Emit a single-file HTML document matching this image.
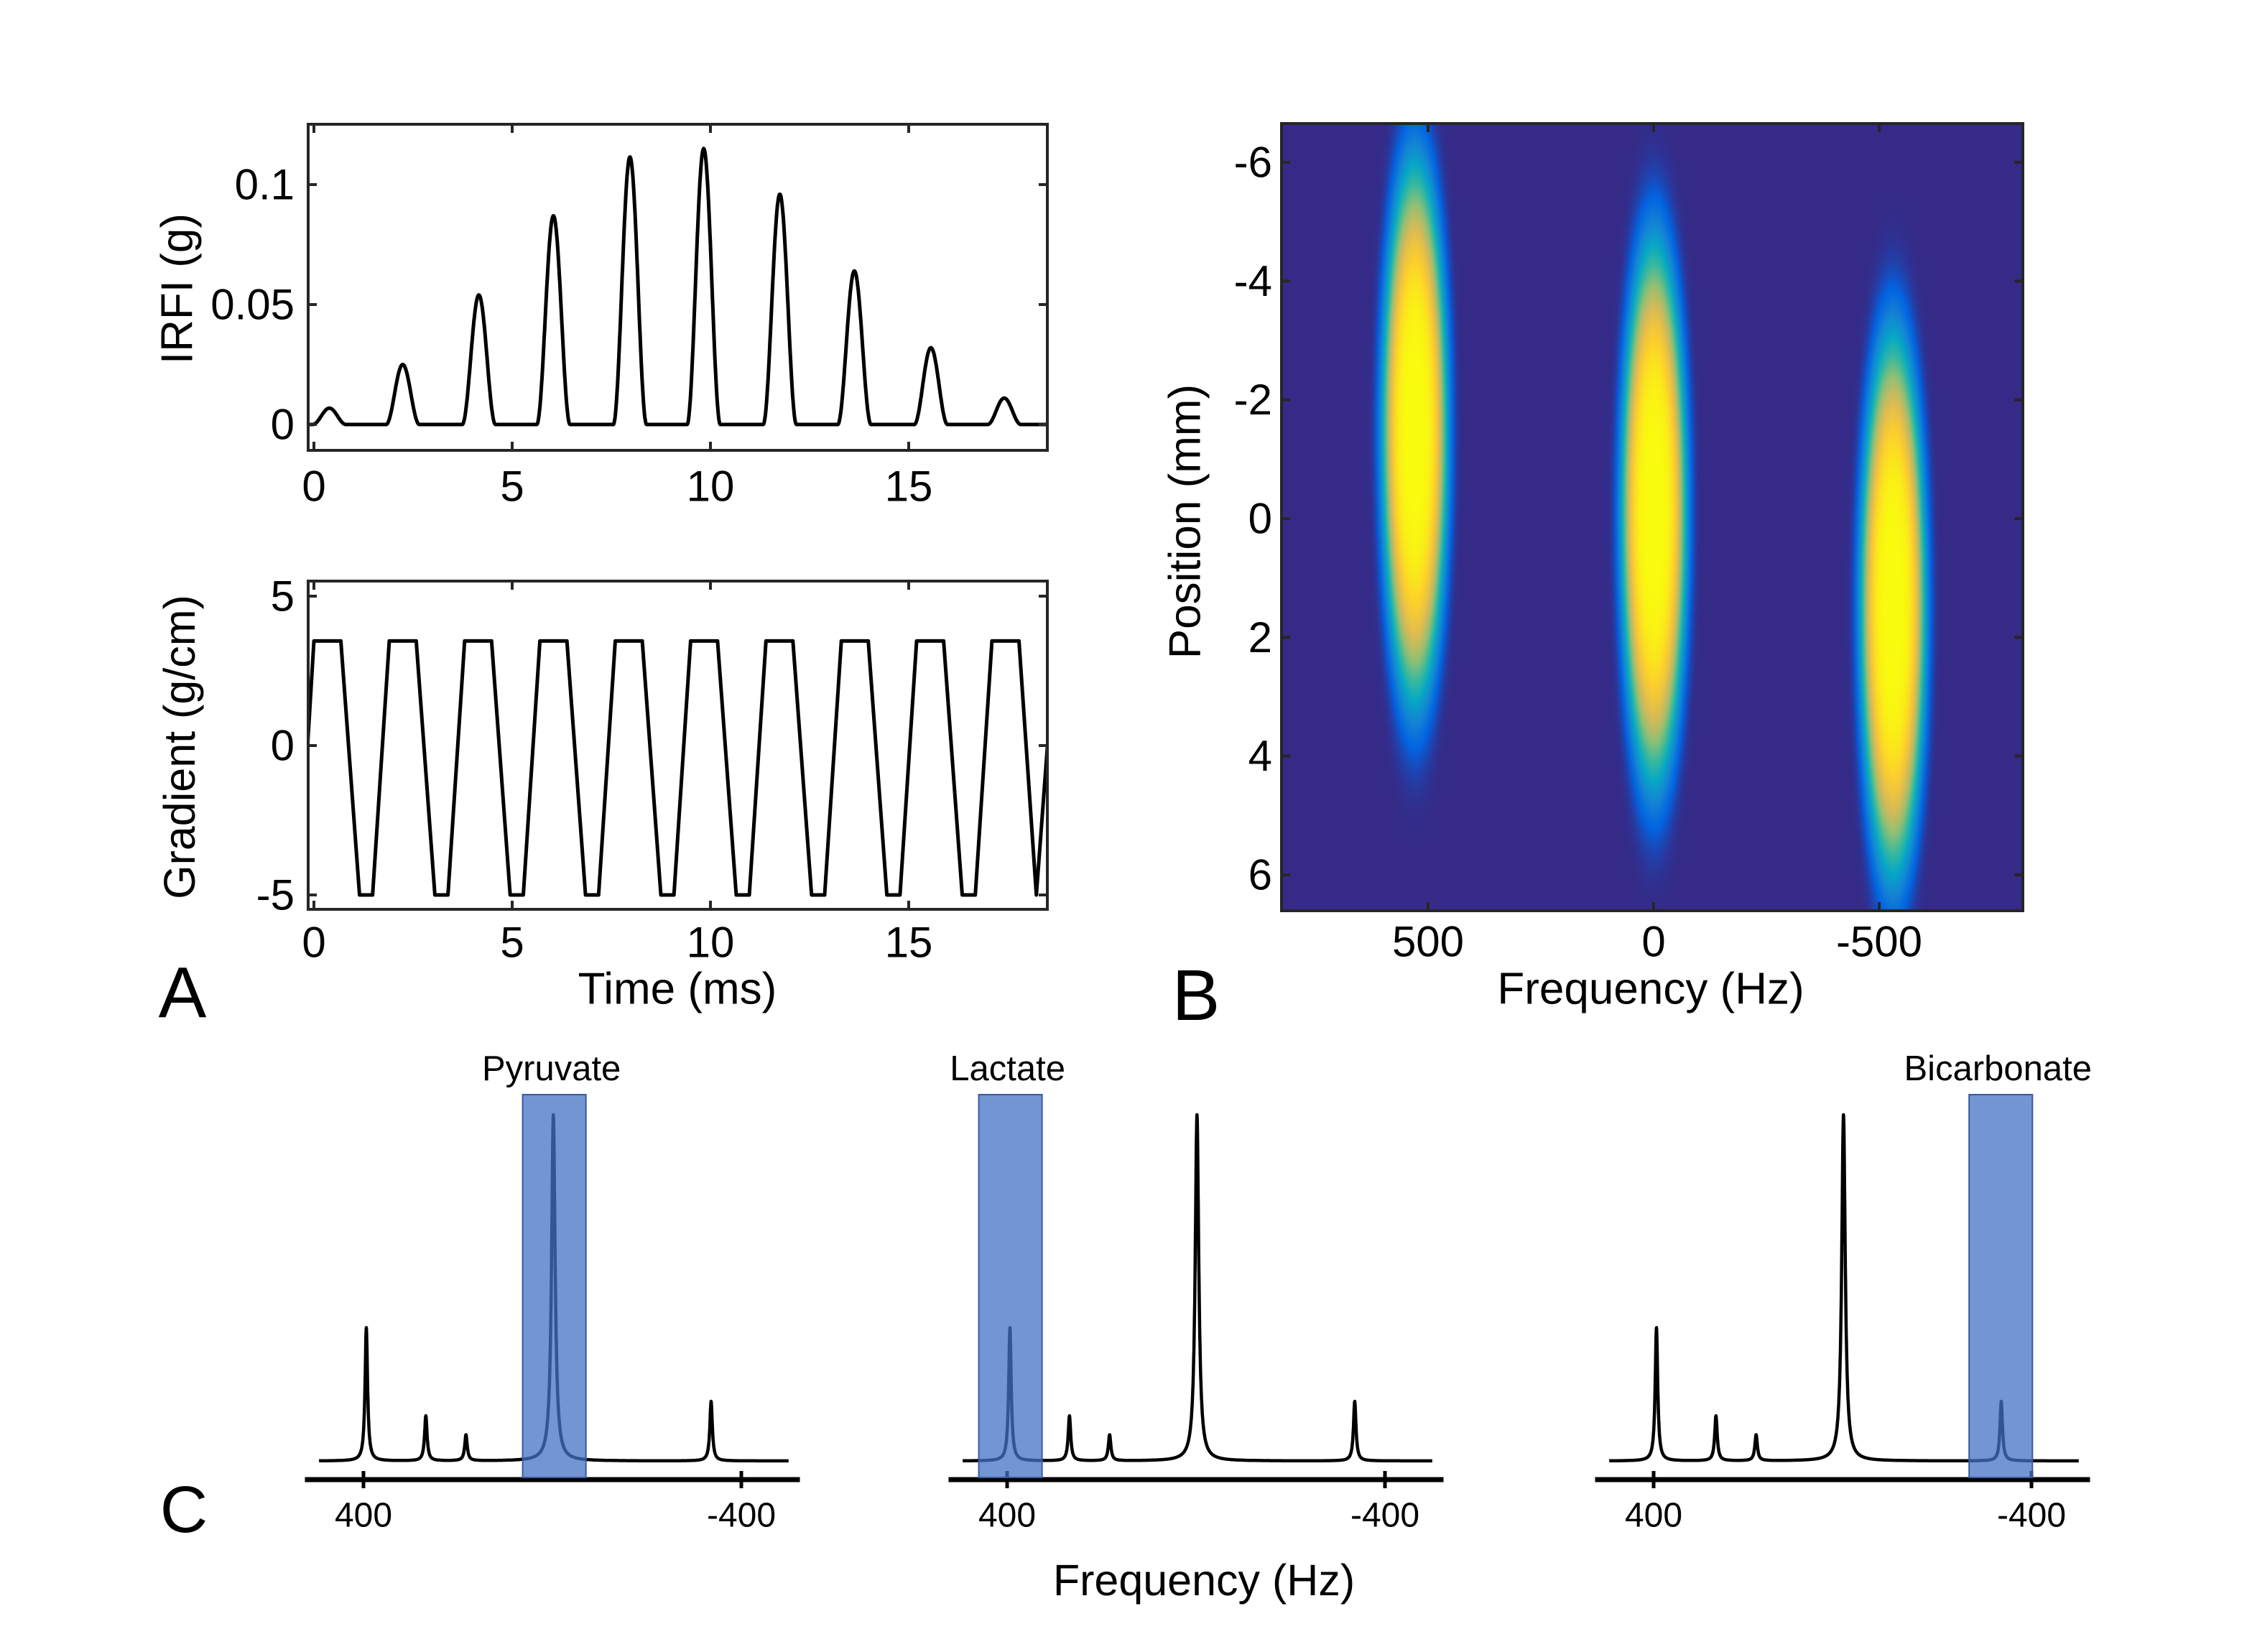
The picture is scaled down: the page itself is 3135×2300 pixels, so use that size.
<!DOCTYPE html>
<html><head><meta charset="utf-8"><style>
html,body{margin:0;padding:0;background:#fff;}
#wrap{position:relative;width:3135px;height:2300px;overflow:hidden;}
svg{position:absolute;left:0;top:0;}
text{font-family:"Liberation Sans",Arial,sans-serif;fill:#000;}
canvas{position:absolute;}
</style></head><body>
<div id="wrap">
<canvas id="heat" style="left:1784px;top:172px;width:1032px;height:1096px" width="1032" height="1096"></canvas>
<svg id="svg" width="3135" height="2300" viewBox="0 0 3135 2300"></svg>
</div>
<script>
// ---------- Panel A1 data: IRFI peaks ----------
const irfiCenters = [0.39, 2.24, 4.16, 6.04, 7.97, 9.83, 11.75, 13.63, 15.56, 17.41];
const irfiHeights = [0.0068, 0.025, 0.054, 0.087, 0.1115, 0.115, 0.096, 0.064, 0.032, 0.011];
const irfiWidth = 0.84;
const irfiYTicks = [0, 0.05, 0.1];
const irfiYTickLabels = ["0", "0.05", "0.1"];
const timeTicks = [0, 5, 10, 15];
const timeTickLabels = ["0", "5", "10", "15"];
// ---------- Panel A2 data: gradient waveform breakpoints ----------
const gradTimes = [-0.16, 0, 0.68, 1.15, 1.48, 1.9, 2.58, 3.05, 3.38, 3.8, 4.48, 4.95, 5.28, 5.7, 6.38, 6.85, 7.18, 7.6, 8.28, 8.75, 9.08, 9.5, 10.18, 10.65, 10.98, 11.4, 12.08, 12.55, 12.88, 13.3, 13.98, 14.45, 14.78, 15.2, 15.88, 16.35, 16.68, 17.1, 17.78, 18.22, 18.5];
const gradValues = [0, 3.5, 3.5, -5, -5, 3.5, 3.5, -5, -5, 3.5, 3.5, -5, -5, 3.5, 3.5, -5, -5, 3.5, 3.5, -5, -5, 3.5, 3.5, -5, -5, 3.5, 3.5, -5, -5, 3.5, 3.5, -5, -5, 3.5, 3.5, -5, -5, 3.5, 3.5, -5, 0];
const gradYTicks = [-5, 0, 5];
const gradYTickLabels = ["-5", "0", "5"];
// ---------- Panel B data ----------
const blobFreqs = [530, 0, -530];
const blobPositions = [-1.45, -0.1, 1.45];
const blobFreqHalfWidth = 95;
const blobPosHalfHeight = 6.0;
const bFreqTicks = [500, 0, -500];
const bFreqTickLabels = ["500", "0", "-500"];
const bPosTicks = [-6, -4, -2, 0, 2, 4, 6];
const bPosTickLabels = ["-6", "-4", "-2", "0", "2", "4", "6"];
// ---------- Panel C data ----------
const specFreqs = [394, 268, 183, -2, -336];
const specHeights = [0.385, 0.13, 0.075, 1.0, 0.172];
const bandCenters = [-4, 393, -335];
const bandLabels = ["Pyruvate", "Lactate", "Bicarbonate"];
const bandWidth = 134;
const cTicks = [400, -400];
const cTickLabels = ["400", "-400"];

const NS = "http://www.w3.org/2000/svg";
const svg = document.getElementById('svg');
function mk(tag, attrs, parent) {
  const e = document.createElementNS(NS, tag);
  for (const k in attrs) e.setAttribute(k, attrs[k]);
  (parent || svg).appendChild(e);
  return e;
}
function txt(str, x, y, size, anchor, parent, rot) {
  const t = mk('text', {x: x, y: y, 'font-size': size, 'text-anchor': anchor || 'middle', 'dominant-baseline': 'central'}, parent);
  if (rot) t.setAttribute('transform', 'rotate(' + rot + ' ' + x + ' ' + y + ')');
  t.textContent = str;
  return t;
}
function lin(d0, d1, r0, r1) { return v => r0 + (v - d0) / (d1 - d0) * (r1 - r0); }

// ===== Panel A1 =====
const a1 = {l: 429, r: 1458, t: 173, b: 627};
const a1x = lin(0, 15, 437, 1265);
const a1y = lin(0, 0.1, 591, 257);
const gA1 = mk('g', {});


(function () {
  let d = '';
  const t0 = -0.15, t1 = 18.5;
  for (let i = 0; i <= 2000; i++) {
    const t = t0 + (t1 - t0) * i / 2000;
    let v = 0;
    for (let k = 0; k < irfiCenters.length; k++) {
      const u = (t - irfiCenters[k]) / irfiWidth;
      if (Math.abs(u) < 0.5) v += irfiHeights[k] * Math.pow(Math.cos(Math.PI * u), 2);
    }
    d += (i ? 'L' : 'M') + a1x(t).toFixed(1) + ' ' + a1y(v).toFixed(1);
  }
  const p = mk('path', {d: d, fill: 'none', stroke: '#000', 'stroke-width': 5, 'stroke-linejoin': 'round'}, gA1);
  
  
})();
function frame(box, g, xt, xs, yt, ys, tickLen) {
  const r = mk('rect', {x: box.l, y: box.t, width: box.r - box.l, height: box.b - box.t, fill: 'none', stroke: '#262626', 'stroke-width': 4}, g);
  
  
  xt.forEach(v => {
    const x = xs(v);
    mk('line', {x1: x, x2: x, y1: box.b, y2: box.b - tickLen, stroke: '#262626', 'stroke-width': 4}, g);
    mk('line', {x1: x, x2: x, y1: box.t, y2: box.t + tickLen, stroke: '#262626', 'stroke-width': 4}, g);
  });
  yt.forEach(v => {
    const y = ys(v);
    mk('line', {x1: box.l, x2: box.l + tickLen, y1: y, y2: y, stroke: '#262626', 'stroke-width': 4}, g);
    mk('line', {x1: box.r, x2: box.r - tickLen, y1: y, y2: y, stroke: '#262626', 'stroke-width': 4}, g);
  });
}
frame(a1, gA1, timeTicks, a1x, irfiYTicks, a1y, 12);
irfiYTicks.forEach((v, i) => {
  const t = txt(irfiYTickLabels[i], 410, a1y(v), 60, 'end', gA1);
  
  
});
timeTicks.forEach((v, i) => {
  const t = txt(timeTickLabels[i], a1x(v), 677, 60, 'middle', gA1);
  
  
});
const irfiTitle = txt('IRFI (g)', 247, 402, 62, 'middle', gA1, -90);



// ===== Panel A2 =====
const a2 = {l: 429, r: 1458, t: 809, b: 1266};
const a2x = a1x;
const a2y = lin(0, 5, 1038, 830);
const gA2 = mk('g', {});


(function () {
  let d = '';
  for (let i = 0; i < gradTimes.length; i++) {
    d += (i ? 'L' : 'M') + a2x(gradTimes[i]).toFixed(1) + ' ' + a2y(gradValues[i]).toFixed(1);
  }
  const cp = mk('clipPath', {id: 'cA2'}, gA2);
  mk('rect', {x: a2.l, y: a2.t, width: a2.r - a2.l, height: a2.b - a2.t}, cp);
  const p = mk('path', {d: d, fill: 'none', stroke: '#000', 'stroke-width': 5, 'stroke-linejoin': 'round', 'clip-path': 'url(#cA2)'}, gA2);
  
  
})();
frame(a2, gA2, timeTicks, a2x, gradYTicks, a2y, 12);
gradYTicks.forEach((v, i) => {
  const t = txt(gradYTickLabels[i], 410, a2y(v), 60, 'end', gA2);
  
  
});
timeTicks.forEach((v, i) => {
  const t = txt(timeTickLabels[i], a2x(v), 1312, 60, 'middle', gA2);
  
  
});
const gradTitle = txt('Gradient (g/cm)', 250, 1040, 61, 'middle', gA2, -90);


const timeTitle = txt('Time (ms)', 943, 1377, 62, 'middle', gA2);


const lblA = txt('A', 254, 1382, 100, 'middle');



// ===== Panel B =====
const bb = {l: 1784, r: 2816, t: 172, b: 1268};
const bx = lin(0, 500, 2302, 1988);
const by = lin(0, 6, 722, 1218);
const parula = [[53,42,135],[3,99,225],[20,132,212],[6,167,198],[56,185,158],[146,191,115],[217,186,86],[252,206,46],[249,251,14]];
function cmap(v) {
  v = Math.max(0, Math.min(1, v)) * (parula.length - 1);
  const i = Math.min(parula.length - 2, Math.floor(v)), f = v - i;
  const a = parula[i], b = parula[i + 1];
  return [a[0] + (b[0] - a[0]) * f, a[1] + (b[1] - a[1]) * f, a[2] + (b[2] - a[2]) * f];
}
(function () {
  const cv = document.getElementById('heat');
  const ctx = cv.getContext('2d');
  const W = cv.width, H = cv.height;
  const img = ctx.createImageData(W, H);
  const hzPerPx = 500 / (2302 - 1988), mmPerPx = 6 / (1218 - 722);
  for (let py = 0; py < H; py++) {
    const mm = (py + bb.t - 722) * mmPerPx;
    for (let px = 0; px < W; px++) {
      const hz = (2302 - (px + bb.l)) * hzPerPx;
      let v = 0;
      for (let k = 0; k < blobFreqs.length; k++) {
        const dx = (hz - blobFreqs[k]) / blobFreqHalfWidth, dy = (mm - blobPositions[k]) / blobPosHalfHeight;
        const r = Math.sqrt(dx * dx + dy * dy);
        v = Math.max(v, Math.exp(-3.5 * Math.pow(r, 4.5)));
      }
      const c = cmap(v);
      const o = (py * W + px) * 4;
      img.data[o] = c[0]; img.data[o + 1] = c[1]; img.data[o + 2] = c[2]; img.data[o + 3] = 255;
    }
  }
  ctx.putImageData(img, 0, 0);
})();
const gB = mk('g', {});


frame(bb, gB, bFreqTicks, bx, bPosTicks, by, 12);
bPosTicks.forEach((v, i) => {
  const t = txt(bPosTickLabels[i], 1771, by(v), 60, 'end', gB);
  
  
});
bFreqTicks.forEach((v, i) => {
  const t = txt(bFreqTickLabels[i], bx(v), 1311, 60, 'middle', gB);
  
  
});
const posTitle = txt('Position (mm)', 1650, 726, 62, 'middle', gB, -90);


const bFreqTitle = txt('Frequency (Hz)', 2298, 1377, 62, 'middle', gB);


const lblB = txt('B', 1665, 1386, 100, 'middle');



// ===== Panel C =====
const cOffsets = [0, 896, 1796];
const cBase = 2034, cAxisY = 2060, cPeakPx = 482;
bandCenters.forEach((bc, s) => {
  const cx = lin(400, -400, 506 + cOffsets[s], 1032 + cOffsets[s]);
  const g = mk('g', {});
  
  
  let d = '';
  const N = 3000;
  for (let i = 0; i <= N; i++) {
    const f = 494 - 994 * i / N;
    let v = 0;
    for (let k = 0; k < specFreqs.length; k++) {
      const w = specHeights[k] > 0.5 ? 4.5 : 3.2;
      v += specHeights[k] * w * w / ((f - specFreqs[k]) * (f - specFreqs[k]) + w * w);
    }
    d += (i ? 'L' : 'M') + cx(f).toFixed(1) + ' ' + (cBase - v * cPeakPx).toFixed(1);
  }
  const p = mk('path', {d: d, fill: 'none', stroke: '#000', 'stroke-width': 4.5, 'stroke-linejoin': 'round'}, g);
  
  
  const ax = mk('line', {x1: cx(524), x2: cx(-524), y1: cAxisY, y2: cAxisY, stroke: '#000', 'stroke-width': 7}, g);
  
  
  cTicks.forEach((v, i) => {
    mk('line', {x1: cx(v), x2: cx(v), y1: cAxisY - 12, y2: cAxisY + 12, stroke: '#000', 'stroke-width': 5}, g);
    const t = txt(cTickLabels[i], cx(v), 2110, 48, 'middle', g);
    
    
  });
  const x0 = cx(bc + bandWidth / 2), x1 = cx(bc - bandWidth / 2);
  const r = mk('rect', {x: x0, y: 1524, width: x1 - x0, height: cAxisY - 3 - 1524, fill: 'rgba(68,114,196,0.75)', stroke: '#3a5a9c', 'stroke-width': 2}, g);
  
  
  const lt = txt(bandLabels[s], (x0 + x1) / 2 - 4, 1488, 49, 'middle', g);
  
  
});
const cTitle = txt('Frequency (Hz)', 1676, 2200, 61, 'middle');


const lblC = txt('C', 256, 2102, 92, 'middle');


</script>
</body></html>
